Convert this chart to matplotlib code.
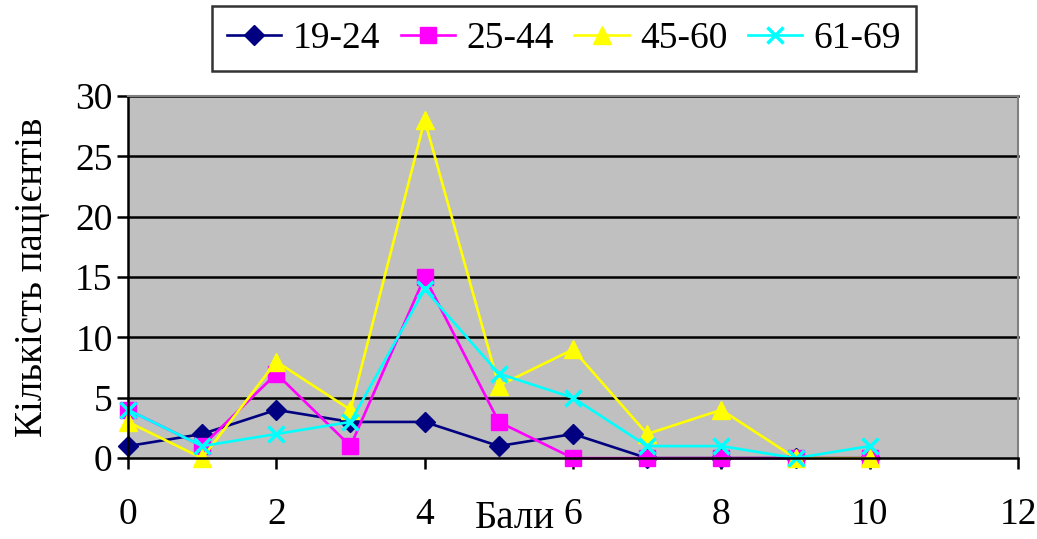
import numpy as np
import matplotlib.pyplot as plt

plt.rcParams['font.family'] = ['Liberation Serif', 'DejaVu Serif']

x = np.arange(0, 11)
s19_24 = [1, 2, 4, 3, 3, 1, 2, 0, 0, 0, 0]
s25_44 = [4, 1, 7, 1, 15, 3, 0, 0, 0, 0, 0]
s45_60 = [3, 0, 8, 4, 28, 6, 9, 2, 4, 0, 0]
s61_69 = [4, 1, 2, 3, 14, 7, 5, 1, 1, 0, 1]
labels = ['19-24', '25-44', '45-60', '61-69']

fig = plt.figure(figsize=(10.37, 5.39), dpi=100)
ax = fig.add_axes([0.1234, 0.150, 0.8583, 0.672])
ax.set_facecolor('#C0C0C0')

lw = 1.9
ax.plot(x, s19_24, color='#000080', marker='D', ms=10, lw=lw, label=labels[0])
ax.plot(x, s25_44, color='#FF00FF', marker='s', ms=11, lw=lw, label=labels[1])
ax.plot(x, s45_60, color='#FFFF00', marker='^', ms=13, lw=lw, label=labels[2])
ax.plot(x, s61_69, color='#00FFFF', marker='x', ms=12, mew=2.5, lw=lw, label=labels[3])

ax.set_xlim(0, 12)
ax.set_ylim(0, 30)
ax.set_xticks(range(0, 13, 2))
ax.set_yticks(range(0, 31, 5))
for y in range(5, 31, 5):
    ax.axhline(y, color='black', lw=1.8, zorder=0.5)

for s in ['top', 'right']:
    ax.spines[s].set_color('#808080')
    ax.spines[s].set_linewidth(1.5)
for s in ['left', 'bottom']:
    ax.spines[s].set_linewidth(1.8)
ax.tick_params(direction='out', length=8, width=1.8, labelsize=27)
ax.tick_params(axis='y', pad=3)
ax.tick_params(axis='x', pad=20)

ax.set_ylabel('Кількість пацієнтів', fontsize=28)
ax.yaxis.set_label_coords(-0.087, 0.5)
fig.text(0.497, 0.003, 'Бали', fontsize=28, ha='center', va='bottom')

leg = ax.legend(loc='lower center', bbox_to_anchor=(0.49, 1.069), ncol=4,
                fontsize=27, frameon=True, fancybox=False, edgecolor='black',
                handlelength=1.45, handletextpad=0.3, columnspacing=0.55,
                borderpad=0.4, borderaxespad=0)
leg.get_frame().set_linewidth(1.8)

for line in ax.lines:
    line.set_clip_on(False)

fig.savefig('out.png', dpi=100)
